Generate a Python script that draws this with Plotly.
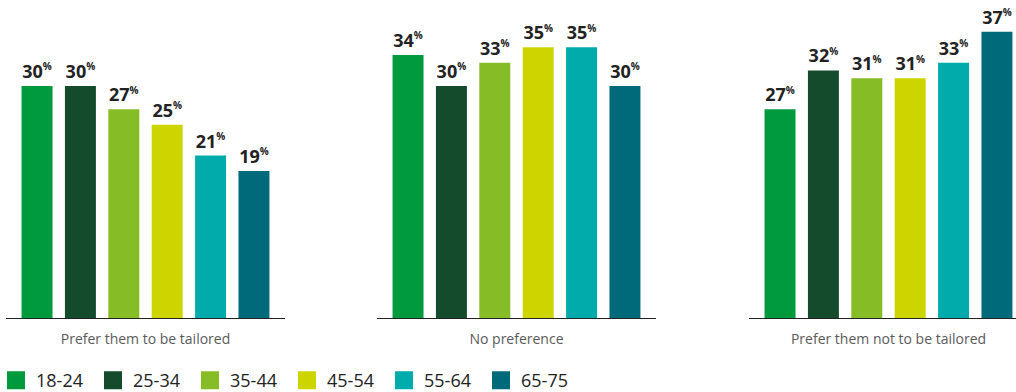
import plotly.graph_objects as go

W, H = 1016, 392

age_groups = ["18-24", "25-34", "35-44", "45-54", "55-64", "65-75"]
colors = ["#009A3E", "#134B2C", "#86BC25", "#CDD500", "#00ABAB", "#00697A"]
panels = ["Prefer them to be tailored", "No preference", "Prefer them not to be tailored"]
values = {
    "Prefer them to be tailored": [30, 30, 27, 25, 21, 19],
    "No preference": [34, 30, 33, 35, 35, 30],
    "Prefer them not to be tailored": [27, 32, 31, 31, 33, 37],
}

# panel pixel extents
px_dom = [(6, 285), (377, 656), (749, 1028)]
unit = 279.0

fig = go.Figure()

def lab(v):
    return f"<b>{v}</b><sup><b><span style='font-size:10px'>%</span></b></sup>"

for pi, p in enumerate(panels):
    ax = "" if pi == 0 else str(pi + 1)
    for gi, g in enumerate(age_groups):
        v = values[p][gi]
        fig.add_trace(go.Bar(
            x=[p], y=[v], name=g,
            marker=dict(color=colors[gi], line=dict(width=0)),
            text=[lab(v)], textposition="outside", constraintext="none",
            textfont=dict(family="Open Sans", size=18, color="#222222"),
            cliponaxis=False, showlegend=False, hoverinfo="skip",
            xaxis="x" + ax, yaxis="y" + ax, offsetgroup=str(gi),
        ))

# legend entries
for gi, g in enumerate(age_groups):
    fig.add_trace(go.Scatter(
        x=[None], y=[None], mode="markers", name=g,
        marker=dict(symbol="square", size=16, color=colors[gi],
                    line=dict(width=2, color=colors[gi])),
        showlegend=True, hoverinfo="skip", xaxis="x", yaxis="y",
    ))

scale = 7.735
ytop = 10
ybase = 318
yrange = [0, (ybase - ytop) / scale]
ydom = [(H - ybase) / H, (H - ytop) / H]

layout = dict(
    width=W, height=H,
    margin=dict(l=0, r=0, t=0, b=0, autoexpand=False),
    paper_bgcolor="white", plot_bgcolor="white",
    barmode="group", bargap=0.067, bargroupgap=0.286,
    font=dict(family="Open Sans", color="#222222"),
    showlegend=True,
    legend=dict(orientation="h", x=-4 / W, xanchor="left", y=-7 / H, yanchor="bottom",
                font=dict(family="Open Sans", size=18, color="#222222"),
                entrywidth=52, itemsizing="trace", traceorder="normal",
                bgcolor="rgba(0,0,0,0)"),
)
for pi, (a, b) in enumerate(px_dom):
    ax = "" if pi == 0 else str(pi + 1)
    bb = min(b, W)
    r1 = 0.5 - (b - bb) / unit
    layout["xaxis" + ax] = dict(
        domain=[a / W, bb / W], type="category", range=[-0.5, r1],
        showline=True, linecolor="#222222", linewidth=1, showgrid=False,
        zeroline=False, ticks="outside", ticklen=8, tickcolor="rgba(0,0,0,0)",
        fixedrange=True,
        tickfont=dict(family="Open Sans", size=14, color="#5a5a5a"),
        anchor="y" + ax,
    )
    layout["yaxis" + ax] = dict(
        domain=ydom, range=yrange, visible=False, showgrid=False,
        zeroline=False, anchor="x" + ax, fixedrange=True,
    )

fig.update_layout(**layout)
fig.write_html("out.html")
